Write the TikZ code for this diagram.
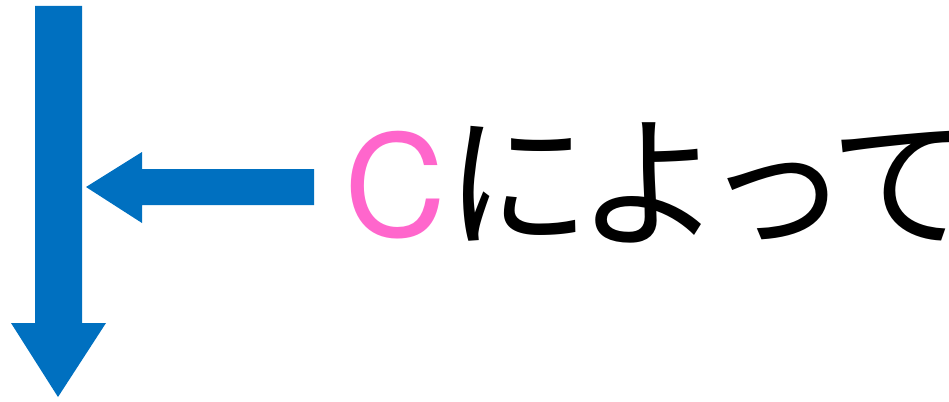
\documentclass[tikz,border=0pt]{standalone}
\usepackage{fontspec}
\newfontfamily\jp[LetterSpace=-9]{Noto Sans CJK JP}
\newfontfamily\latn{TeX Gyre Heros}
\definecolor{arrowblue}{HTML}{0070C0}
\definecolor{cpink}{HTML}{FF66CC}
\begin{document}
\begin{tikzpicture}[x=1pt,y=-1pt,
  fatarrow/.style={fill=arrowblue,draw=none},
  lbl/.style={anchor=base west,inner sep=0pt}]
\useasboundingbox (0,0) rectangle (949,401);
% vertical arrow
\fill[fatarrow] (35,6) -- (82,6) -- (82,323) -- (106,323) -- (58,397) -- (11,323) -- (35,323) -- cycle;
% horizontal arrow
\fill[fatarrow] (314,169) -- (314,205) -- (142,205) -- (142,223) -- (86,187) -- (142,152) -- (142,169) -- cycle;
% label
\node[lbl,font=\latn\fontsize{141}{141}\selectfont,text=cpink] (c) at (344,236) {C};
\node[lbl,font=\jp\fontsize{145}{145}\selectfont] (jp) at (445,236) {によって};
\end{tikzpicture}
\end{document}
